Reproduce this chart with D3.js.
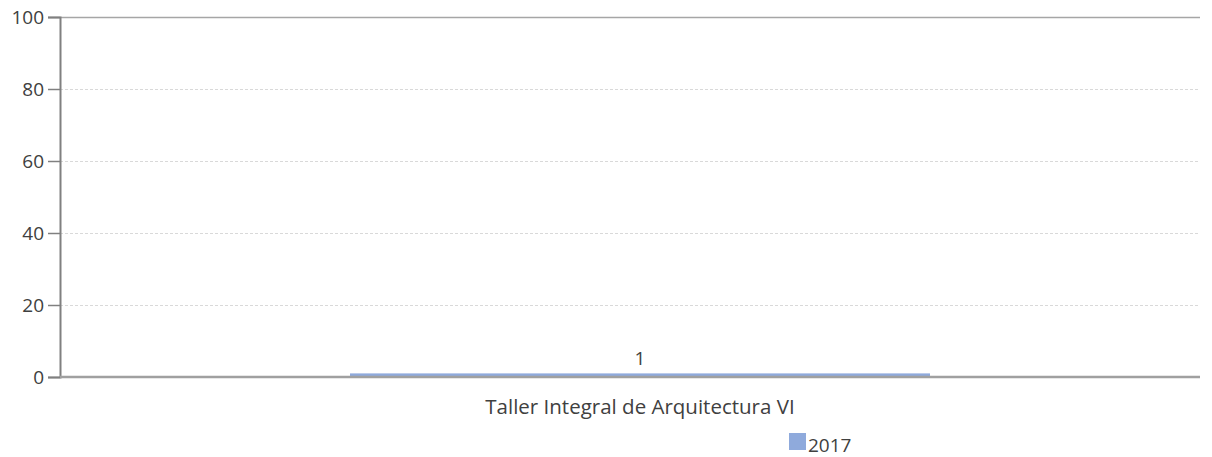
<!DOCTYPE html>
<html>
<head>
<meta charset="utf-8">
<script src="https://cdn.jsdelivr.net/npm/d3@7"></script>
<style>
  body { margin: 0; background: #fff; }
  text { font-family: "Open Sans", sans-serif; fill: #404040; }
</style>
</head>
<body>
<div id="container"></div>
<script>
/* DATA */
const categories = ["Taller Integral de Arquitectura VI"];
const seriesName = "2017";
const values = [1];
const yTicks = [0, 20, 40, 60, 80, 100];

/* CONSTANTS */
const width = 1212,
  height = 457,
  margin = { left: 60, top: 17, bottom: 80, right: 12 };

const svg = d3.select("#container")
  .append("svg")
  .attr("width", width)
  .attr("height", height);

// SCALES
const xScale = d3.scaleBand()
  .domain(categories)
  .range([margin.left + 20, width - margin.right])
  .paddingInner(0)
  .paddingOuter(0.4655);

const yScale = d3.scaleLinear()
  .domain([0, 100])
  .range([height - margin.bottom, margin.top]);

// GRID
svg.append("g")
  .selectAll("line")
  .data(yTicks.filter(d => d > 0 && d < 100))
  .join("line")
  .attr("x1", margin.left)
  .attr("x2", width - margin.right)
  .attr("y1", d => yScale(d) + 0.5)
  .attr("y2", d => yScale(d) + 0.5)
  .attr("stroke", "#d9d9d9")
  .attr("stroke-dasharray", "3,2");

// top border line
svg.append("line")
  .attr("x1", margin.left)
  .attr("x2", width - margin.right)
  .attr("y1", yScale(100) + 0.5)
  .attr("y2", yScale(100) + 0.5)
  .attr("stroke", "#a6a6a6")
  .attr("stroke-width", 1.5);

// BARS
svg.append("g")
  .selectAll("rect")
  .data(values)
  .join("rect")
  .attr("x", (d, i) => xScale(categories[i]))
  .attr("width", xScale.bandwidth())
  .attr("y", d => yScale(d))
  .attr("height", d => yScale(0) - yScale(d))
  .attr("fill", "#8faadc");

// value labels
svg.append("g")
  .selectAll("text")
  .data(values)
  .join("text")
  .attr("x", (d, i) => xScale(categories[i]) + xScale.bandwidth() / 2)
  .attr("y", d => yScale(d) - 8)
  .attr("text-anchor", "middle")
  .style("font-size", "19px")
  .text(d => d);

// Y AXIS
const yAxis = d3.axisLeft(yScale)
  .tickValues(yTicks)
  .tickSize(12)
  .tickPadding(4);

const yG = svg.append("g")
  .attr("transform", `translate(${margin.left},0)`)
  .call(yAxis);
yG.select(".domain").attr("stroke", "#808080").attr("stroke-width", 2);
yG.selectAll(".tick line").attr("stroke", "#808080").attr("stroke-width", 1.5);
yG.selectAll(".tick text").style("font-size", "19px").style("fill", "#404040");

// X AXIS
const xAxis = d3.axisBottom(xScale).tickSize(0).tickPadding(22);
const xG = svg.append("g")
  .attr("transform", `translate(0,${yScale(0)})`)
  .call(xAxis);
xG.select(".domain").remove();
xG.selectAll(".tick text").style("font-size", "20.5px").style("fill", "#404040");

// baseline
svg.append("line")
  .attr("x1", margin.left)
  .attr("x2", width - margin.right)
  .attr("y1", yScale(0))
  .attr("y2", yScale(0))
  .attr("stroke", "#a0a0a0")
  .attr("stroke-width", 2.5);

// LEGEND
const legend = svg.append("g").attr("transform", "translate(789,433)");
legend.append("rect")
  .attr("width", 17)
  .attr("height", 17)
  .attr("fill", "#8faadc");
legend.append("text")
  .attr("x", 19)
  .attr("y", 19)
  .style("font-size", "19px")
  .text(seriesName);
</script>
</body>
</html>
